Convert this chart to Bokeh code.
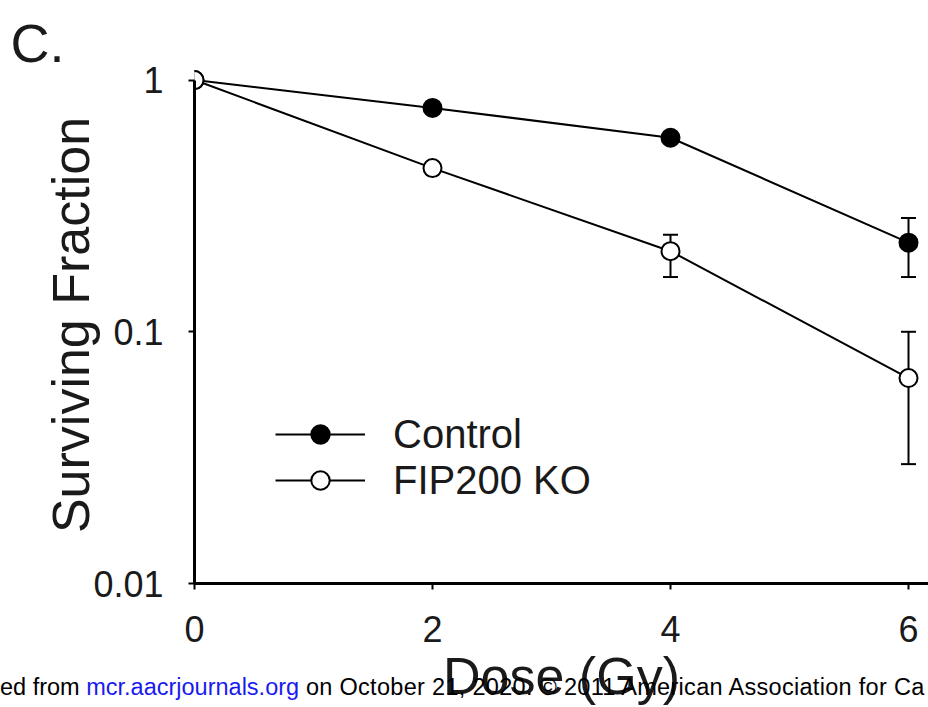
from bokeh.plotting import figure
from bokeh.layouts import column
from bokeh.models import (ColumnDataSource, Whisker, TeeHead, Legend, LegendItem,
                          FixedTicker, Range1d, CustomJSTickFormatter, Div)
from bokeh.embed import file_html
from bokeh.resources import INLINE

# ---- data ----
dose = [0, 2, 4, 6]
control = [1.0, 0.775, 0.59, 0.226]
control_upper = [1.0, 0.775, 0.59, 0.283]
control_lower = [1.0, 0.775, 0.59, 0.165]
fip200 = [1.0, 0.447, 0.209, 0.0655]
fip200_upper = [1.0, 0.447, 0.243, 0.100]
fip200_lower = [1.0, 0.447, 0.165, 0.0298]
x_ticks = [0, 2, 4, 6]
y_ticks = [0.01, 0.1, 1]
series_names = ["Control", "FIP200 KO"]

FONT = "Liberation Sans"
TXT = "#1a1a1a"

fig = figure(width=928, height=707, y_axis_type="log",
             x_range=Range1d(0, 6.168), y_range=Range1d(0.01, 1.132),
             output_backend="svg", toolbar_location=None,
             min_border_left=194, min_border_right=0,
             min_border_top=66, min_border_bottom=124)
fig.outline_line_color = None
fig.grid.visible = False
fig.background_fill_color = "white"
fig.border_fill_color = "white"

# panel letter as title
fig.title.text = "C."
fig.title.align = "left"
fig.title.vertical_align = "bottom"
fig.title.offset = -184
fig.title.standoff = -12
fig.title.text_font = FONT
fig.title.text_font_size = "54px"
fig.title.text_font_style = "normal"
fig.title.text_color = TXT

# axes
fig.xaxis.ticker = FixedTicker(ticks=x_ticks, minor_ticks=[])
fig.yaxis.ticker = FixedTicker(ticks=y_ticks, minor_ticks=[])
fig.yaxis.formatter = CustomJSTickFormatter(code="return tick.toString();")
for ax in (fig.xaxis[0], fig.yaxis[0]):
    ax.axis_line_width = 3
    ax.axis_line_color = "black"
    ax.major_tick_line_width = 2
    ax.major_tick_line_color = "black"
    ax.major_tick_out = 6
    ax.major_tick_in = 0
    ax.minor_tick_line_color = None
    ax.major_label_text_font = FONT
    ax.major_label_text_font_size = "36px"
    ax.major_label_text_color = TXT
    ax.axis_label_text_font = FONT
    ax.axis_label_text_font_style = "normal"
    ax.axis_label_text_color = TXT
fig.xaxis.major_label_standoff = 26
fig.yaxis.major_label_standoff = 25
fig.yaxis.bounds = (0.01, 1)
fig.xaxis.axis_label = "Dose (Gy)"
fig.xaxis.axis_label_text_font_size = "52px"
fig.xaxis.axis_label_standoff = 2
fig.yaxis.axis_label = "Surviving Fraction"
fig.yaxis.axis_label_text_font_size = "52px"
fig.yaxis.axis_label_standoff = -10

def err_source(x, upper, lower):
    keep = [i for i in range(len(x)) if upper[i] != lower[i]]
    return ColumnDataSource(dict(x=[x[i] for i in keep],
                                 upper=[upper[i] for i in keep],
                                 lower=[lower[i] for i in keep]))

for up, lo in ((control_upper, control_lower), (fip200_upper, fip200_lower)):
    w = Whisker(source=err_source(dose, up, lo), base="x", upper="upper", lower="lower",
                line_width=2, line_color="black",
                upper_head=TeeHead(size=15, line_width=2, line_color="black"),
                lower_head=TeeHead(size=15, line_width=2, line_color="black"))
    fig.add_layout(w)

lc = fig.line(dose, control, line_width=2, line_color="black")
sc = fig.scatter(dose, control, marker="circle", size=18, fill_color="black",
                 line_color="black", line_width=2)
lf = fig.line(dose, fip200, line_width=2, line_color="black")
sf = fig.scatter(dose, fip200, marker="circle", size=18, fill_color="white",
                 line_color="black", line_width=2)

legend = Legend(items=[LegendItem(label=series_names[0], renderers=[lc, sc]),
                       LegendItem(label=series_names[1], renderers=[lf, sf])],
                location=(81, 80), glyph_width=90, glyph_height=46,
                label_standoff=28, label_text_font=FONT, label_text_font_size="40px",
                label_text_color=TXT, padding=0, margin=0, spacing=0,
                border_line_color=None, background_fill_alpha=0)
fig.add_layout(legend)

# footer watermark line
footer = Div(
    text=('ed from <span style="color:#1a1aee">mcr.aacrjournals.org</span>'
          '<span style="letter-spacing:0.3px"> on October 21, 2020. © 2011 '
          'American Association for Ca</span>'),
    width=928, height=30, margin=(-35, 0, 0, 0),
    styles={"font-family": FONT, "font-size": "23.5px", "line-height": "30px",
            "white-space": "nowrap", "color": "black", "overflow": "hidden",
            "position": "relative", "z-index": "5"})

p = column(fig, footer, spacing=0)
open("out.html", "w").write(file_html(p, INLINE))
